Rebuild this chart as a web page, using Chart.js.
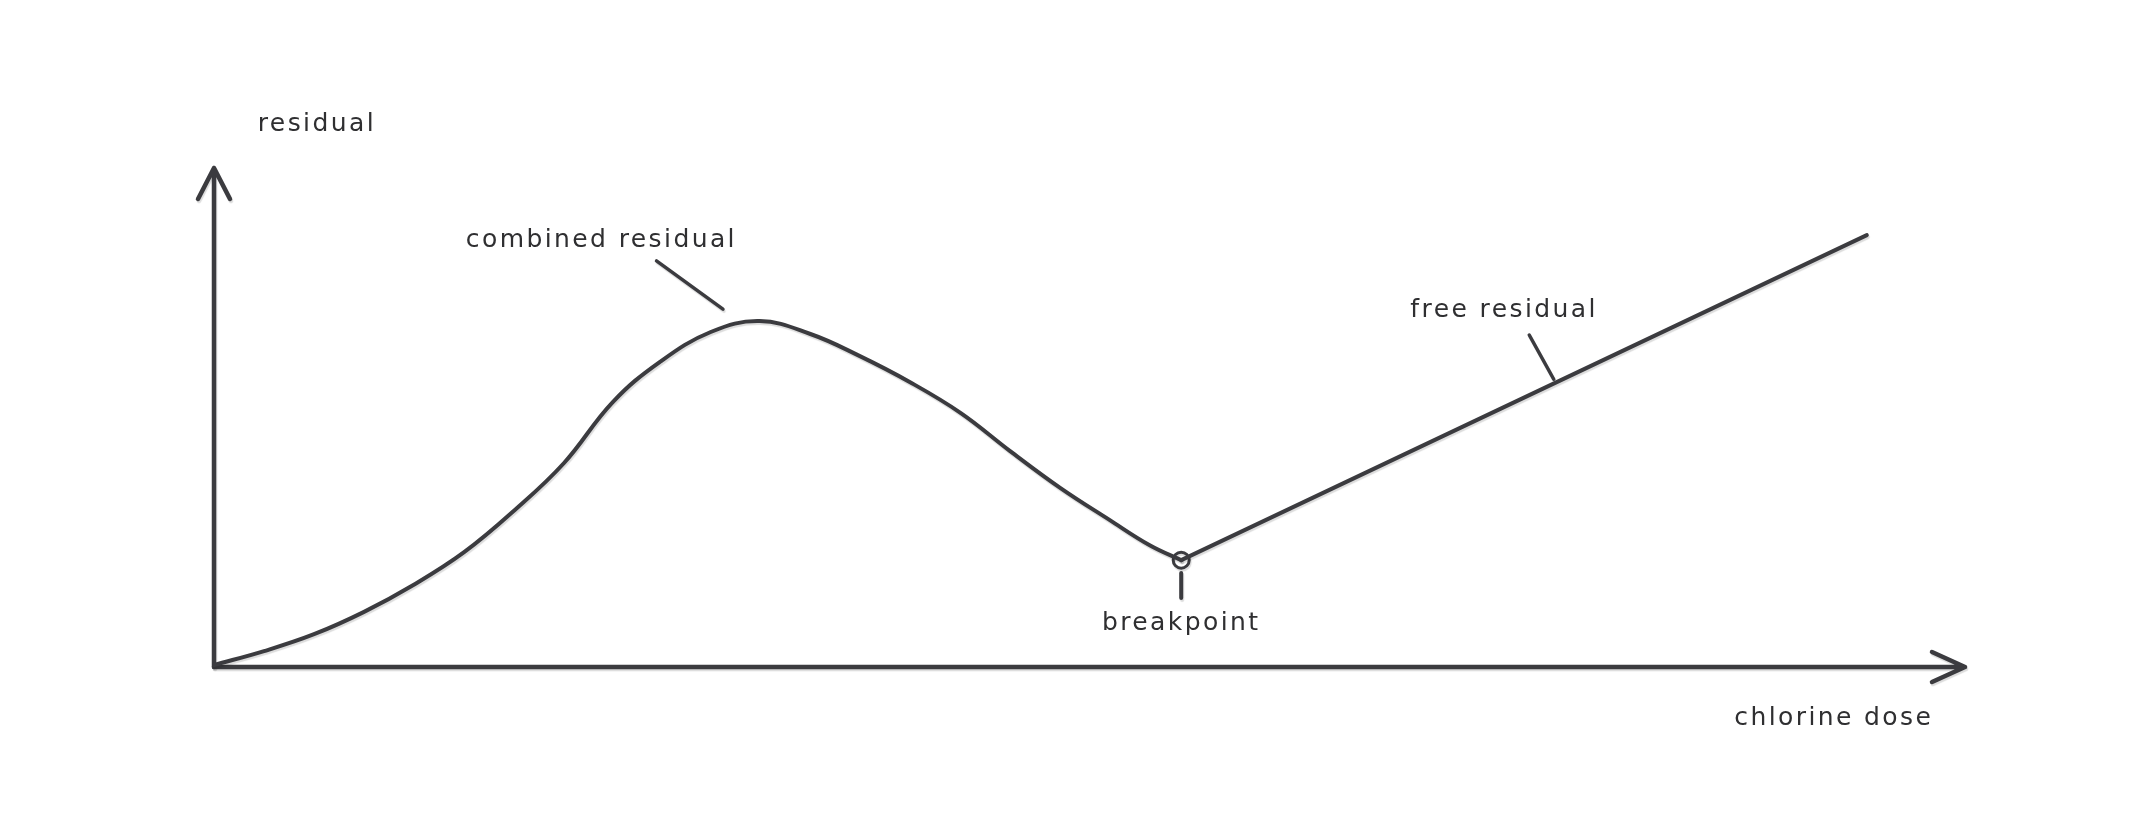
<!DOCTYPE html>
<html>
<head>
<meta charset="utf-8">
<script src="https://cdn.jsdelivr.net/npm/chart.js@4.4.1/dist/chart.umd.min.js"></script>
<style>
  html, body { margin: 0; padding: 0; background: #ffffff; }
  #wrap { width: 2133px; height: 827px; }
</style>
</head>
<body>
<div id="wrap"><canvas id="breakpointChart" width="2133" height="827"></canvas></div>
<script>
// chlorine dose (x) vs residual (y), both on a 0-100 sketch scale
const combinedDose     = [0, 2.86, 5.72, 8.58, 11.4, 14.3, 17.2, 20.0, 22.8, 25.5, 28.4, 31.2, 34.1, 36.9, 39.8, 42.7, 45.5, 48.4, 51.2, 53.5, 55.3];
const combinedResidual = [0.4, 3.2, 6.6, 11.1, 16.5, 23.1, 31.6, 41.0, 53.3, 61.4, 67.4, 69.6, 67.0, 62.6, 57.3, 51.1, 43.5, 36.0, 29.6, 24.5, 21.5];

const freeDose     = [55.3, 94.5];
const freeResidual = [21.5, 86.9];

const breakpointDose = [55.3];
const breakpointResidual = [21.5];

// little pointer strokes from each label to its curve
const combinedPointerDose = [25.3, 29.1];
const combinedPointerResidual = [81.7, 72.0];
const freePointerDose = [75.2, 76.6];
const freePointerResidual = [66.8, 57.9];
const breakPointerDose = [55.3, 55.3];
const breakPointerResidual = [18.9, 13.9];

const axisLabels = ["residual", "chlorine dose"];
const curveLabels = ["combined residual", "free residual", "breakpoint"];

const INK = "#3b3b3f";

function toXY(xs, ys) {
    return xs.map((x, i) => ({ x: x, y: ys[i] }));
}

function strokeSet(xs, ys, width) {
    return {
        type: "line",
        data: toXY(xs, ys),
        borderColor: INK,
        borderWidth: width,
        pointRadius: 0,
        borderCapStyle: "round",
        borderJoinStyle: "round",
        fill: false,
        clip: false
    };
}

// soft grey shadow under the pen strokes
const shadowPlugin = {
    id: "penShadow",
    beforeDatasetsDraw(chart) {
        const ctx = chart.ctx;
        ctx.save();
        ctx.shadowColor = "rgba(0,0,0,0.14)";
        ctx.shadowOffsetX = 1;
        ctx.shadowOffsetY = 2;
        ctx.shadowBlur = 1;
    },
    afterDatasetsDraw(chart) {
        chart.ctx.restore();
    }
};

// axes with arrow heads + hand-written labels
const sketchPlugin = {
    id: "sketchAxes",
    beforeDatasetsDraw(chart) {
        const ctx = chart.ctx;
        const x = chart.scales.x, y = chart.scales.y;
        const x0 = x.getPixelForValue(0), y0 = y.getPixelForValue(0);
        const xEnd = x.getPixelForValue(100) + 2, yEnd = y.getPixelForValue(100) - 2;

        ctx.save();
        ctx.strokeStyle = INK;
        ctx.lineWidth = 4.5;
        ctx.lineCap = "round";
        ctx.lineJoin = "round";
        ctx.shadowColor = "rgba(0,0,0,0.14)";
        ctx.shadowOffsetX = 1;
        ctx.shadowOffsetY = 2;
        ctx.shadowBlur = 1;

        ctx.beginPath();
        ctx.moveTo(x0, y0);
        ctx.lineTo(x0, yEnd);
        ctx.moveTo(x0 - 16, yEnd + 31);
        ctx.lineTo(x0, yEnd);
        ctx.lineTo(x0 + 16, yEnd + 31);
        ctx.stroke();

        ctx.beginPath();
        ctx.moveTo(x0, y0);
        ctx.lineTo(xEnd, y0);
        ctx.moveTo(xEnd - 33, y0 - 15);
        ctx.lineTo(xEnd, y0);
        ctx.lineTo(xEnd - 33, y0 + 15);
        ctx.stroke();
        ctx.restore();
    },
    afterDraw(chart) {
        const ctx = chart.ctx;
        const x = chart.scales.x, y = chart.scales.y;
        ctx.save();
        ctx.fillStyle = "#2f2f31";
        ctx.font = "25px 'DejaVu Sans'";
        ctx.letterSpacing = "2.4px";
        ctx.textBaseline = "alphabetic";

        ctx.textAlign = "left";
        ctx.fillText(axisLabels[0], x.getPixelForValue(2.5), y.getPixelForValue(107.8));
        ctx.fillText(curveLabels[0], x.getPixelForValue(14.4), y.getPixelForValue(84.5));
        ctx.fillText(curveLabels[1], x.getPixelForValue(68.4), y.getPixelForValue(70.4));

        ctx.textAlign = "center";
        ctx.fillText(curveLabels[2], x.getPixelForValue(55.3), y.getPixelForValue(7.4));

        ctx.textAlign = "right";
        ctx.fillText(axisLabels[1], x.getPixelForValue(98.3), y.getPixelForValue(-11.7));
        ctx.restore();
    }
};

const ctx = document.getElementById("breakpointChart").getContext("2d");
new Chart(ctx, {
    type: "line",
    data: {
        datasets: [
            Object.assign(strokeSet(combinedDose, combinedResidual, 4), { tension: 0.4 }),
            strokeSet(freeDose, freeResidual, 4),
            strokeSet(combinedPointerDose, combinedPointerResidual, 3.5),
            strokeSet(freePointerDose, freePointerResidual, 3.5),
            strokeSet(breakPointerDose, breakPointerResidual, 4),
            {
                type: "scatter",
                data: toXY(breakpointDose, breakpointResidual),
                pointStyle: "circle",
                pointRadius: 8,
                pointBorderWidth: 3,
                pointBorderColor: INK,
                pointBackgroundColor: "rgba(0,0,0,0)",
                clip: false
            }
        ]
    },
    options: {
        responsive: false,
        animation: false,
        devicePixelRatio: 1,
        layout: { padding: { left: 214, right: 170, top: 170, bottom: 160 } },
        scales: {
            x: { type: "linear", min: 0, max: 100, display: false },
            y: { type: "linear", min: 0, max: 100, display: false }
        },
        plugins: {
            legend: { display: false },
            tooltip: { enabled: false }
        }
    },
    plugins: [sketchPlugin, shadowPlugin]
});
</script>
</body>
</html>
